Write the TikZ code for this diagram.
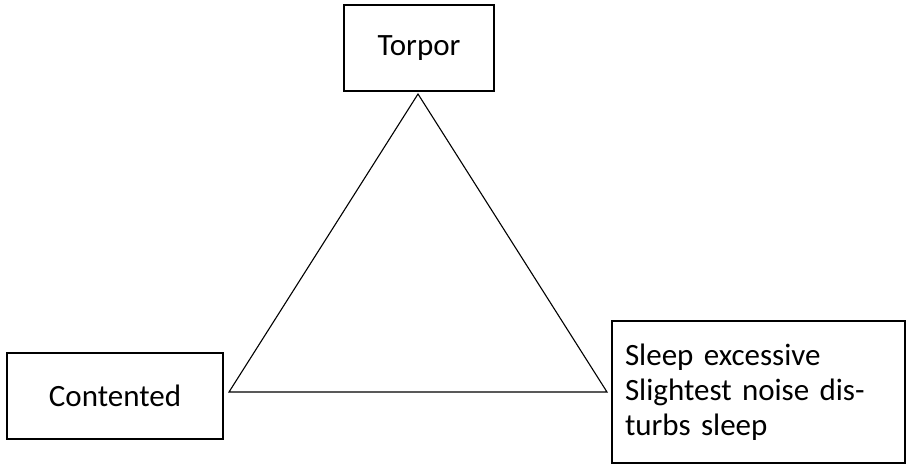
\documentclass[tikz,border=0pt]{standalone}
\usepackage{fontspec}
\setmainfont{Carlito}
\begin{document}
\begin{tikzpicture}[x=1pt,y=-1pt,
  box/.style={draw=black,line width=1.7pt,inner sep=0pt,font=\fontsize{31}{35}\selectfont},
  tri/.style={draw=black,line width=1.1pt}]
\useasboundingbox (0,0) rectangle (907,465);
\node[box,minimum width=150pt,minimum height=86pt] (torpor) at (419,48) {Torpor};
\node[box,minimum width=216pt,minimum height=86pt] (cont) at (115,396) {Contented};
\node[box,minimum width=293pt,minimum height=142pt,text width=267pt,align=left] (sleep) at (758.5,392)
  {Sleep excessive\\Slightest noise dis-\\turbs sleep};
\coordinate (apex) at (418,94);
\coordinate (lv) at (229,392);
\coordinate (rv) at (607,392);
\draw[tri,line join=miter] (apex) -- (lv) -- (rv) -- cycle;
\end{tikzpicture}
\end{document}
